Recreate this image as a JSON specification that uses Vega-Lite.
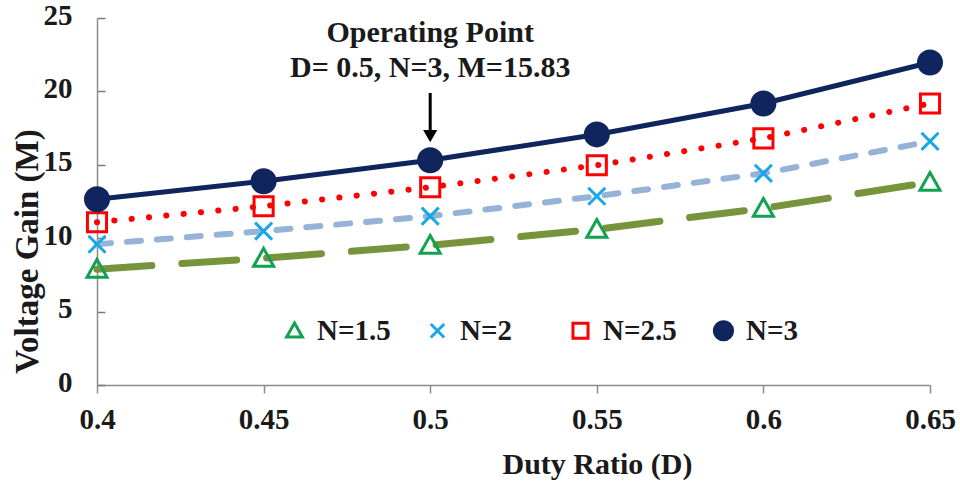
{
  "$schema": "https://vega.github.io/schema/vega-lite/v6.json",
  "width": 833,
  "height": 367,
  "autosize": {"type": "none"},
  "padding": {"left": 97, "top": 18, "right": 30, "bottom": 99},
  "background": "white",
  "config": {
    "view": {"stroke": null},
    "font": "Liberation Serif",
    "legend": {
      "orient": "none",
      "legendX": 183,
      "legendY": 298,
      "direction": "horizontal",
      "labelFont": "Liberation Serif",
      "labelFontSize": 29,
      "labelFontWeight": "bold",
      "labelColor": "#1a1a1a",
      "symbolSize": 330,
      "symbolStrokeWidth": 3,
      "columnPadding": 31,
      "gridAlign": "all",
      "labelOffset": 8,
      "padding": 0
    }
  },
  "data": {
    "values": [
      {"D": 0.4, "M": 7.89, "N": "N=1.5"},
      {"D": 0.45, "M": 8.64, "N": "N=1.5"},
      {"D": 0.5, "M": 9.52, "N": "N=1.5"},
      {"D": 0.55, "M": 10.61, "N": "N=1.5"},
      {"D": 0.6, "M": 12.04, "N": "N=1.5"},
      {"D": 0.65, "M": 13.81, "N": "N=1.5"},
      {"D": 0.4, "M": 9.59, "N": "N=2"},
      {"D": 0.45, "M": 10.48, "N": "N=2"},
      {"D": 0.5, "M": 11.5, "N": "N=2"},
      {"D": 0.55, "M": 12.86, "N": "N=2"},
      {"D": 0.6, "M": 14.42, "N": "N=2"},
      {"D": 0.65, "M": 16.6, "N": "N=2"},
      {"D": 0.4, "M": 11.09, "N": "N=2.5"},
      {"D": 0.45, "M": 12.18, "N": "N=2.5"},
      {"D": 0.5, "M": 13.47, "N": "N=2.5"},
      {"D": 0.55, "M": 14.97, "N": "N=2.5"},
      {"D": 0.6, "M": 16.8, "N": "N=2.5"},
      {"D": 0.65, "M": 19.18, "N": "N=2.5"},
      {"D": 0.4, "M": 12.65, "N": "N=3"},
      {"D": 0.45, "M": 13.88, "N": "N=3"},
      {"D": 0.5, "M": 15.31, "N": "N=3"},
      {"D": 0.55, "M": 17.07, "N": "N=3"},
      {"D": 0.6, "M": 19.18, "N": "N=3"},
      {"D": 0.65, "M": 21.97, "N": "N=3"}
    ]
  },
  "encoding": {
    "x": {
      "field": "D",
      "type": "quantitative",
      "scale": {"domain": [0.4, 0.65], "nice": false, "zero": false},
      "axis": {
        "title": "Duty Ratio (D)",
        "values": [0.4, 0.45, 0.5, 0.55, 0.6, 0.65],
        "format": ".2~f",
        "grid": false,
        "labelFlush": false,
        "domainColor": "#8c8c8c",
        "domainWidth": 1.5,
        "tickColor": "#8c8c8c",
        "tickWidth": 1.5,
        "tickSize": 8,
        "labelFont": "Liberation Serif",
        "labelFontSize": 29,
        "labelFontWeight": "bold",
        "labelColor": "#1a1a1a",
        "labelPadding": 12,
        "titleFont": "Liberation Serif",
        "titleFontSize": 30,
        "titleFontWeight": "bold",
        "titleColor": "#1a1a1a",
        "titleX": 500,
        "titleY": 79,
        "titleBaseline": "middle"
      }
    },
    "y": {
      "field": "M",
      "type": "quantitative",
      "scale": {"domain": [0, 25], "nice": false},
      "axis": {
        "title": "Voltage Gain (M)",
        "values": [0, 5, 10, 15, 20, 25],
        "format": "d",
        "grid": false,
        "domainColor": "#8c8c8c",
        "domainWidth": 1.5,
        "tickColor": "#7a7a7a",
        "tickWidth": 1.5,
        "tickSize": -8,
        "labelFont": "Liberation Serif",
        "labelFontSize": 29,
        "labelFontWeight": "bold",
        "labelColor": "#1a1a1a",
        "labelPadding": 33,
        "labelOffset": -3,
        "titleFont": "Liberation Serif",
        "titleFontSize": 33,
        "titleFontWeight": "bold",
        "titleColor": "#1a1a1a",
        "titleX": -70,
        "titleY": 233,
        "titleAngle": -90,
        "titleBaseline": "middle",
        "titleAlign": "center"
      }
    }
  },
  "layer": [
    {
      "transform": [{"filter": "datum.N === 'N=1.5'"}],
      "mark": {"type": "line", "color": "#77933C", "strokeWidth": 7, "strokeDash": [55, 30], "strokeCap": "round"}
    },
    {
      "transform": [{"filter": "datum.N === 'N=2'"}],
      "mark": {"type": "line", "color": "#95B3D7", "strokeWidth": 6, "strokeDash": [14, 16], "strokeCap": "round"}
    },
    {
      "transform": [{"filter": "datum.N === 'N=2.5'"}],
      "mark": {"type": "line", "color": "#FF0000", "strokeWidth": 6, "strokeDash": [0.1, 17.3], "strokeCap": "round"}
    },
    {
      "transform": [{"filter": "datum.N === 'N=3'"}],
      "mark": {"type": "line", "color": "#10245E", "strokeWidth": 5}
    },
    {
      "mark": {"type": "point", "strokeWidth": 3, "opacity": 1, "size": 530},
      "encoding": {
        "shape": {
          "field": "N",
          "type": "nominal",
          "title": null,
          "scale": {
            "domain": ["N=1.5", "N=2", "N=2.5", "N=3"],
            "range": [
              "M0,-0.85L0.87,0.7L-0.87,0.7Z",
              "M-0.74,-0.74L0.74,0.74M-0.74,0.74L0.74,-0.74",
              "M-0.83,-0.83H0.83V0.83H-0.83Z",
              "M-1,0A1,1 0 1,0 1,0A1,1 0 1,0 -1,0Z"
            ]
          }
        },
        "stroke": {
          "field": "N",
          "type": "nominal",
          "title": null,
          "scale": {
            "domain": ["N=1.5", "N=2", "N=2.5", "N=3"],
            "range": ["#12A150", "#1AA7E6", "#FF0000", "#10245E"]
          }
        },
        "fill": {
          "field": "N",
          "type": "nominal",
          "title": null,
          "scale": {
            "domain": ["N=1.5", "N=2", "N=2.5", "N=3"],
            "range": ["transparent", "transparent", "transparent", "#10245E"]
          }
        }
      }
    },
    {
      "transform": [{"filter": "datum.N === 'N=3' && datum.D === 0.5"}],
      "mark": {"type": "text", "text": "Operating Point", "font": "Liberation Serif", "fontSize": 30, "fontWeight": "bold", "color": "#1a1a1a", "baseline": "alphabetic", "align": "center"},
      "encoding": {"y": {"datum": 23.37, "type": "quantitative"}}
    },
    {
      "transform": [{"filter": "datum.N === 'N=3' && datum.D === 0.5"}],
      "mark": {"type": "text", "text": "D= 0.5, N=3, M=15.83", "font": "Liberation Serif", "fontSize": 30, "fontWeight": "bold", "color": "#1a1a1a", "baseline": "alphabetic", "align": "center"},
      "encoding": {"y": {"datum": 20.98, "type": "quantitative"}}
    },
    {
      "transform": [{"filter": "datum.N === 'N=3' && datum.D === 0.5"}],
      "mark": {"type": "rule", "color": "#000000", "strokeWidth": 3},
      "encoding": {"y": {"datum": 19.89, "type": "quantitative"}, "y2": {"datum": 17.3}}
    },
    {
      "transform": [{"filter": "datum.N === 'N=3' && datum.D === 0.5"}],
      "mark": {"type": "point", "shape": "triangle-down", "filled": true, "color": "#000000", "opacity": 1, "size": 200},
      "encoding": {"y": {"datum": 16.95, "type": "quantitative"}}
    }
  ]
}
